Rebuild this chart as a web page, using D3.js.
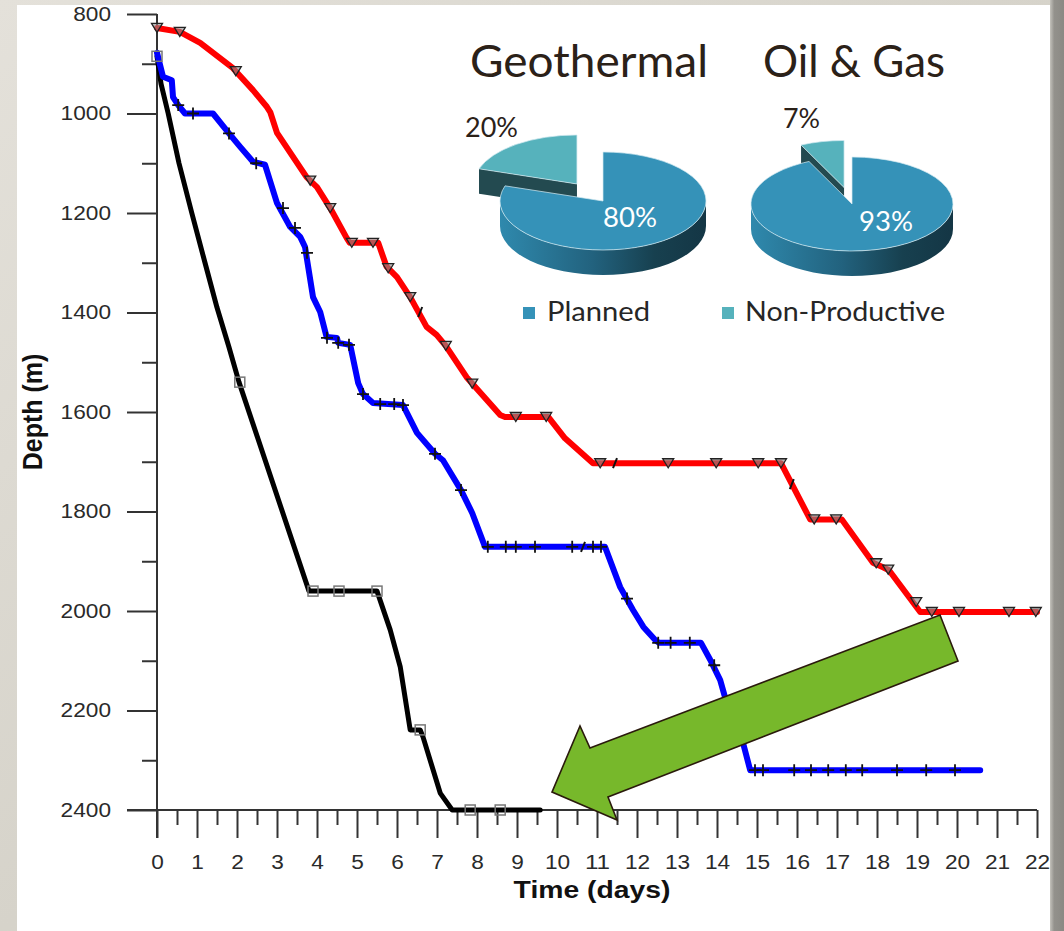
<!DOCTYPE html>
<html><head><meta charset="utf-8">
<script src="https://cdn.jsdelivr.net/npm/d3@7"></script>
<style>html,body{margin:0;padding:0;background:#fff;overflow:hidden}svg{display:block}</style>
</head><body>
<svg id="c" width="1064" height="931"></svg>
<script>
// ---------------- DATA ----------------
const xTickDays = d3.range(0, 23);
const xMinorDays = d3.range(0.5, 22, 1);
const yTickDepth = [800, 1000, 1200, 1400, 1600, 1800, 2000, 2200, 2400];
const yMinorDepth = [900, 1100, 1300, 1500, 1700, 1900, 2100, 2300];

const blackDays  = [0, 0.1, 0.28, 0.55, 0.87, 1.2, 1.5, 1.8, 2.05, 3.8, 5.5, 5.83, 6.08, 6.33, 6.58, 6.65, 7.08, 7.38, 9.58];
const blackDepth = [885, 940, 1000, 1100, 1200, 1300, 1390, 1470, 1540, 1960, 1960, 2038, 2112, 2239, 2239, 2253, 2366, 2400, 2400];
const blackMarkDays  = [0, 2.07, 3.9, 4.55, 5.5, 6.58, 7.83, 8.58];
const blackMarkDepth = [885, 1540, 1960, 1960, 1960, 2239, 2400, 2400];

const blueDays  = [0, 0.15, 0.37, 0.4, 0.53, 0.7, 1.4, 1.83, 2.08, 2.4, 2.7, 3.0, 3.33, 3.58, 3.7, 3.9, 4.08, 4.24, 4.5, 4.53, 4.83, 5.03, 5.15, 5.4, 6.15, 6.5, 6.95, 7.15, 7.6, 7.88, 8.2, 11.2, 11.58, 11.9, 12.16, 12.45, 12.55, 13.6, 13.83, 14.08, 14.2, 14.65, 14.83, 20.58];
const blueDepth = [878, 926, 933, 967, 983, 1000, 1000, 1043, 1067, 1097, 1103, 1180, 1228, 1248, 1268, 1369, 1399, 1449, 1451, 1461, 1465, 1542, 1564, 1582, 1586, 1642, 1684, 1697, 1757, 1803, 1871, 1871, 1952, 1998, 2032, 2058, 2064, 2064, 2098, 2139, 2173, 2265, 2320, 2320];
const blueMarkDays  = [0.53, 0.9, 1.8, 2.48, 3.15, 3.45, 3.75, 4.25, 4.53, 4.8, 5.15, 5.58, 5.93, 6.15, 6.95, 7.6, 8.27, 8.72, 8.97, 9.45, 10.38, 10.9, 11.1, 11.75, 12.53, 12.84, 13.32, 13.93, 14.95, 15.15, 15.93, 16.35, 16.78, 17.22, 17.63, 18.5, 19.23, 19.95];
const blueMarkDepth = [983, 1000, 1040, 1100, 1190, 1230, 1280, 1451, 1461, 1465, 1564, 1584, 1584, 1586, 1684, 1757, 1871, 1871, 1871, 1871, 1871, 1871, 1871, 1975, 2064, 2064, 2064, 2109, 2320, 2320, 2320, 2320, 2320, 2320, 2320, 2320, 2320, 2320];

const redDays  = [0, 0.57, 1.08, 1.9, 2.4, 2.75, 2.83, 3.0, 3.74, 4.0, 4.33, 4.74, 4.82, 5.53, 5.74, 6.0, 6.33, 6.74, 6.99, 7.22, 7.74, 8.58, 8.7, 9.78, 10.2, 10.9, 15.6, 16.33, 17.12, 17.9, 18.15, 18.3, 19.08, 22];
const redDepth = [828, 836, 858, 909, 953, 987, 997, 1039, 1128, 1148, 1190, 1250, 1260, 1260, 1308, 1329, 1369, 1429, 1445, 1467, 1530, 1606, 1610, 1610, 1653, 1703, 1703, 1816, 1816, 1903, 1912, 1918, 2002, 2002];
const redMarkDays  = [0, 0.57, 1.97, 3.83, 4.33, 4.87, 5.4, 5.78, 6.33, 7.22, 7.88, 8.97, 9.73, 11.08, 12.78, 13.98, 15.03, 15.6, 16.43, 16.98, 17.98, 18.28, 18.98, 19.37, 20.05, 21.3, 21.97];
const redMarkDepth = [828, 836, 915, 1135, 1190, 1260, 1260, 1311, 1369, 1467, 1543, 1610, 1610, 1703, 1703, 1703, 1703, 1703, 1816, 1816, 1904, 1917, 1982, 2002, 2002, 2002, 2002];

const slashDays  = [10.65, 11.45, 15.87, 6.58];
const slashDepth = [1871, 1703, 1745, 1399];

const arrowDays  = [19.575, 20.025, 11.275, 11.5, 9.875, 10.575, 10.825];
const arrowDepth = [2008, 2100.5, 2374, 2420, 2364, 2231, 2275.4];

const pieCategories = ["Planned", "Non-Productive"];
const pieTitles = ["Geothermal", "Oil & Gas"];
const geothermalValues = [80, 20];
const oilGasValues = [93, 7];

// ---------------- DRAW ----------------
const svg = d3.select("#c");
const defs = svg.append("defs");

// background
const bg = defs.append("linearGradient").attr("id","bgL").attr("x1",0).attr("x2",1).attr("y1",0).attr("y2",1);
bg.append("stop").attr("offset",0).attr("stop-color","#e4e1da");
bg.append("stop").attr("offset",0.5).attr("stop-color","#d6d3ca");
bg.append("stop").attr("offset",1).attr("stop-color","#dedbd3");
svg.append("rect").attr("width",1064).attr("height",931).attr("fill","url(#bgL)");
const rg = defs.append("linearGradient").attr("id","bgR").attr("x1",0).attr("x2",1).attr("y1",0).attr("y2",0);
rg.append("stop").attr("offset",0).attr("stop-color","#c4c2bc");
rg.append("stop").attr("offset",0.3).attr("stop-color","#93918c");
rg.append("stop").attr("offset",1).attr("stop-color","#8b8984");
svg.append("rect").attr("x",1050).attr("y",0).attr("width",14).attr("height",931).attr("fill","url(#bgR)");
svg.append("rect").attr("x",17).attr("y",5).attr("width",1033).attr("height",926).attr("fill","#ffffff");

const x = d3.scaleLinear().domain([0, 22]).range([157, 1037]);
const y = d3.scaleLinear().domain([800, 2400]).range([14, 810]);

const axisColor = "#333";
const labelFont = "'Liberation Sans', Arial, sans-serif";

// Y axis
const gy = svg.append("g").attr("transform", `translate(${x(0)},0)`);
gy.call(d3.axisLeft(y).tickValues(yTickDepth).tickSize(30).tickPadding(16).tickFormat(d3.format("d")));
const gy2 = svg.append("g").attr("transform", `translate(${x(0)},0)`);
gy2.call(d3.axisLeft(y).tickValues(yMinorDepth).tickSize(15).tickFormat(""));
// X axis
const gx = svg.append("g").attr("transform", `translate(0,${y(2400)})`);
gx.call(d3.axisBottom(x).tickValues(xTickDays).tickSize(28).tickPadding(17).tickFormat(d3.format("d")));
const gx2 = svg.append("g").attr("transform", `translate(0,${y(2400)})`);
gx2.call(d3.axisBottom(x).tickValues(xMinorDays).tickSize(15).tickFormat(""));

[gy, gy2, gx, gx2].forEach(g => {
  g.select(".domain").remove();
  g.selectAll(".tick line").attr("stroke", axisColor).attr("stroke-width", 2);
  g.selectAll(".tick text").attr("fill", "#2a2a2a").style("font-family", labelFont).style("font-size", "19.5px")
    .each(function(){ const t = d3.select(this).text(); if (t) d3.select(this).attr("textLength", t.length * 12.6).attr("lengthAdjust","spacingAndGlyphs"); });
});
// axis lines
svg.append("line").attr("x1", x(0)).attr("x2", x(0)).attr("y1", y(800)).attr("y2", y(2400) + 28).attr("stroke", axisColor).attr("stroke-width", 2);
svg.append("line").attr("x1", x(0) - 30).attr("x2", x(22)).attr("y1", y(2400)).attr("y2", y(2400)).attr("stroke", axisColor).attr("stroke-width", 2);

// axis titles
svg.append("text").attr("transform", `translate(${(x(0)+x(22))/2 - 5},898) scale(1.18,1)`)
  .attr("text-anchor","middle").style("font-family", labelFont).style("font-weight","bold").style("font-size","24px").attr("fill","#111").text("Time (days)");
svg.append("text").attr("transform", `translate(42,412) rotate(-90) scale(1,1.1)`)
  .attr("text-anchor","middle").style("font-family", labelFont).style("font-weight","bold").style("font-size","25px").attr("fill","#111").text("Depth (m)");

// lines
const zip = (a, b) => a.map((v, i) => [v, b[i]]);
const line = d3.line().x(d => x(d[0])).y(d => y(d[1]));
const lineG = svg.append("g").attr("fill","none").attr("stroke-linejoin","round").attr("stroke-linecap","round");
lineG.append("path").attr("d", line(zip(blackDays, blackDepth))).attr("stroke","#000").attr("stroke-width",5);
lineG.append("path").attr("d", line(zip(blueDays, blueDepth))).attr("stroke","#0000ff").attr("stroke-width",6);
lineG.append("path").attr("d", line(zip(redDays, redDepth))).attr("stroke","#ff0000").attr("stroke-width",6);

// markers
const mk = svg.append("g");
mk.selectAll(".sq").data(zip(blackMarkDays, blackMarkDepth)).join("rect")
  .attr("x", d => x(d[0]) - 5).attr("y", d => y(d[1]) - 5).attr("width", 10).attr("height", 10)
  .attr("fill","none").attr("stroke","#777").attr("stroke-width",1.5);
mk.selectAll(".pl").data(zip(blueMarkDays, blueMarkDepth)).join("path")
  .attr("transform", d => `translate(${x(d[0])},${y(d[1])})`).attr("d","M-6,0H6M0,-6V6")
  .attr("stroke","#111").attr("stroke-width",1.8).attr("fill","none");
mk.selectAll(".tr").data(zip(redMarkDays, redMarkDepth)).join("path")
  .attr("transform", d => `translate(${x(d[0])},${y(d[1])})`).attr("d","M-5.5,-4.5L5.5,-4.5L0,4.5Z")
  .attr("fill","rgba(140,140,140,0.6)").attr("stroke","#222").attr("stroke-width",1.3);
mk.selectAll(".sl").data(zip(slashDays, slashDepth)).join("path")
  .attr("transform", d => `translate(${x(d[0])},${y(d[1])})`).attr("d","M-2,5L2,-5")
  .attr("stroke","#111").attr("stroke-width",2).attr("fill","none");

// arrow
svg.append("path").attr("d", "M" + zip(arrowDays, arrowDepth).map(d => [x(d[0]), y(d[1])].join(",")).join("L") + "Z")
  .attr("fill","#77b82b").attr("stroke","#2a1a0c").attr("stroke-width",1.6).attr("stroke-linejoin","miter");

// ---------------- 3D PIES ----------------
const topColors = ["#3592b8", "#56b2bc"];
const sideDark = "#234a50";
function pie3d(id, cfg) {
  const {cx, cy, rx, ry, depth, values, k} = cfg;
  const g = svg.append("g");
  const grad = defs.append("linearGradient").attr("id", "side" + id).attr("gradientUnits","userSpaceOnUse")
    .attr("x1", cx - rx).attr("x2", cx + rx).attr("y1", 0).attr("y2", 0);
  grad.append("stop").attr("offset",0).attr("stop-color","#2f89ad");
  grad.append("stop").attr("offset",0.45).attr("stop-color","#22627e");
  grad.append("stop").attr("offset",0.75).attr("stop-color","#17404f");
  grad.append("stop").attr("offset",1).attr("stop-color","#143645");
  const arcs = d3.pie().sort(null).startAngle(0).endAngle(2 * Math.PI)(values);
  const order = [1, 0];
  order.forEach(i => {
    const a = arcs[i];
    const a0 = a.startAngle, a1 = a.endAngle, mid = (a0 + a1) / 2;
    const ex = i === 1 ? k : 0;
    const ox = cx + ex * rx * Math.sin(mid), oy = cy - ex * ry * Math.cos(mid);
    const P = (t, dz = 0) => [ox + rx * Math.sin(t), oy - ry * Math.cos(t) + dz];
    const pt = p => p[0].toFixed(2) + "," + p[1].toFixed(2);
    // radial faces
    if (Math.sin(a0) < -1e-6) {
      g.append("path").attr("d", `M${ox},${oy}L${pt(P(a0))}L${pt(P(a0, depth))}L${ox},${oy + depth}Z`).attr("fill", sideDark);
    }
    if (Math.sin(a1) > 1e-6) {
      g.append("path").attr("d", `M${ox},${oy}L${pt(P(a1))}L${pt(P(a1, depth))}L${ox},${oy + depth}Z`).attr("fill", sideDark);
    }
    // outer side
    const s = Math.max(a0, Math.PI / 2), e = Math.min(a1, 3 * Math.PI / 2);
    if (s < e) {
      g.append("path").attr("d", `M${pt(P(s))}A${rx},${ry} 0 0 1 ${pt(P(e))}L${pt(P(e, depth))}A${rx},${ry} 0 0 0 ${pt(P(s, depth))}Z`)
        .attr("fill", i === 0 ? `url(#side${id})` : sideDark);
    }
    // top
    const large = (a1 - a0) > Math.PI ? 1 : 0;
    g.append("path").attr("d", `M${ox},${oy}L${pt(P(a0))}A${rx},${ry} 0 ${large} 1 ${pt(P(a1))}Z`)
      .attr("fill", topColors[i]).attr("stroke", "#d4eaf1").attr("stroke-width", 0.9).attr("stroke-opacity", 0.8);
  });
}
pie3d("g", {cx: 603, cy: 201, rx: 103, ry: 49, depth: 25, values: geothermalValues, k: 0.43});
pie3d("o", {cx: 852, cy: 204, rx: 101, ry: 47, depth: 25, values: oilGasValues, k: 0.36});

const pieFont = "Lato, 'Open Sans', sans-serif";
function txt(str, xl, yb, size, len, color) {
  svg.append("text").attr("x", xl).attr("y", yb).style("font-family", pieFont).style("font-size", size + "px")
    .attr("fill", color).attr("textLength", len).attr("lengthAdjust","spacingAndGlyphs").text(str);
}
const dark = "#2b2118";
txt(pieTitles[0], 470, 77, 44, 238, dark);
txt(pieTitles[1], 763, 77, 44, 182, dark);
txt(geothermalValues[1] + "%", 465, 137, 26, 53, dark);
txt(geothermalValues[0] + "%", 603, 227, 26, 54, "#ffffff");
txt(oilGasValues[1] + "%", 783, 128, 26, 37, dark);
txt(oilGasValues[0] + "%", 859, 231, 26, 54, "#ffffff");

// legend
svg.append("rect").attr("x", 523).attr("y", 307).attr("width", 12).attr("height", 12).attr("fill", topColors[0]);
txt(pieCategories[0], 547, 321, 26, 103, "#262626");
svg.append("rect").attr("x", 722).attr("y", 307).attr("width", 12).attr("height", 12).attr("fill", topColors[1]);
txt(pieCategories[1], 745, 321, 26, 200, "#262626");
</script>
</body></html>
